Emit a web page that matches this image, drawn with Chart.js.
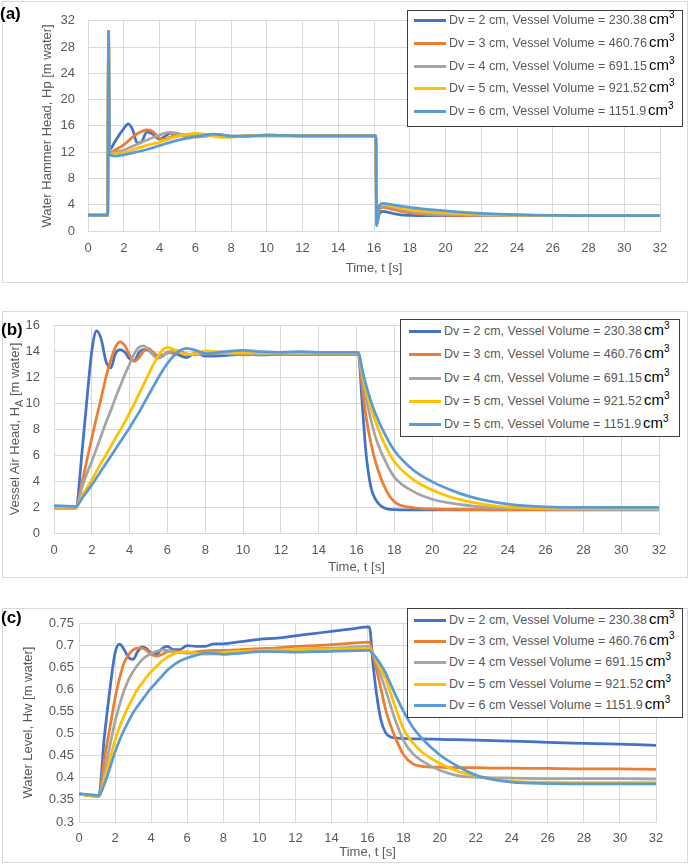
<!DOCTYPE html>
<html>
<head>
<meta charset="utf-8">
<script src="https://cdn.jsdelivr.net/npm/chart.js@4.4.0/dist/chart.umd.min.js"></script>
<style>
  body { margin: 0; width: 690px; height: 864px; background: #fff; position: relative; overflow: hidden; font-family: "Liberation Sans", Arial, sans-serif; }
  .frame { position: absolute; border: 1px solid #d9d9d9; box-sizing: border-box; }
  canvas { position: absolute; left: 0; }
  .tag { position: absolute; font-weight: bold; font-size: 17px; color: #000; }
  .legend { position: absolute; border: 1.5px solid #3f3f3f; background: #fff; box-sizing: border-box; }
  .row { position: absolute; height: 20px; display: flex; align-items: center; white-space: nowrap; }
  .swatch { width: 32px; height: 3px; margin-right: 3px; }
  .txt { font-size: 12.5px; color: #595959; }
  .unit { font-size: 15px; color: #000; position: relative; top: -2px; margin-left: 2px; }
  .unit sup { font-size: 10px; }
  .ytitle { position: absolute; transform: translate(-50%, -50%) rotate(-90deg); white-space: nowrap; color: #595959; font-size: 13px; }
</style>
</head>
<body>
<div class="frame" style="left:2px;top:1px;width:686px;height:282px"></div>
<div class="frame" style="left:2px;top:311px;width:686px;height:267px"></div>
<div class="frame" style="left:2px;top:608px;width:686px;height:255px"></div>

<canvas id="chartA" width="690" height="282" style="top:0px"></canvas>
<canvas id="chartB" width="690" height="280" style="top:300px"></canvas>
<canvas id="chartC" width="690" height="264" style="top:600px"></canvas>

<div class="tag" style="left:0px;top:4px">(a)</div>
<div class="tag" style="left:1px;top:320px">(b)</div>
<div class="tag" style="left:1px;top:608px">(c)</div>
<div class="ytitle" style="left:16px;top:429px">Vessel Air Head, H<sub>A</sub> [m water]</div>

<script>
// (a) water hammer head Hp [m water]
const timeA = [0, 1.1, 1.15, 1.2, 1.3, 1.5, 2, 2.25, 2.5, 2.75, 3, 3.3, 3.6, 4, 4.3, 4.6, 5, 5.5, 6, 6.5, 7, 7.5, 8, 9, 10, 12, 14,
               16.1, 16.15, 16.3, 16.5, 17, 17.5, 18, 19, 20, 21, 22, 23, 24, 25, 26, 28, 32];
const hpDv2 = [2.4, 2.4, 30.4, 12.5, 12.6, 13.6, 15.6, 16.3, 15.4, 13.4, 13.6, 15.1, 14.8, 14.0, 14.4, 14.9, 14.7, 14.4, 14.5, 14.6, 14.7, 14.6, 14.4, 14.5, 14.6, 14.5, 14.5,
               14.5, 1.0, 2.6, 3.0, 2.7, 2.45, 2.38, 2.35, 2.35, 2.35, 2.35, 2.35, 2.35, 2.35, 2.35, 2.35, 2.35];
const hpDv3 = [2.4, 2.4, 30.4, 12.0, 12.0, 12.3, 13.1, 13.7, 14.3, 14.8, 15.15, 15.4, 15.2, 14.1, 13.95, 14.3, 14.75, 14.6, 14.3, 14.4, 14.6, 14.5, 14.4, 14.5, 14.5, 14.5, 14.5,
               14.5, 1.0, 3.2, 3.6, 3.3, 3.0, 2.75, 2.5, 2.4, 2.37, 2.35, 2.35, 2.35, 2.35, 2.35, 2.35, 2.35];
const hpDv4 = [2.4, 2.4, 30.4, 11.8, 11.8, 12.0, 12.3, 12.6, 12.9, 13.2, 13.5, 13.85, 14.2, 14.6, 14.9, 15.0, 14.85, 14.45, 14.35, 14.5, 14.6, 14.6, 14.5, 14.5, 14.5, 14.5, 14.5,
               14.5, 1.0, 3.5, 3.9, 3.6, 3.3, 3.0, 2.7, 2.55, 2.45, 2.4, 2.37, 2.35, 2.35, 2.35, 2.35, 2.35];
const hpDv5 = [2.4, 2.4, 30.4, 11.7, 11.7, 11.8, 11.9, 12.1, 12.35, 12.6, 12.8, 13.05, 13.25, 13.5, 13.8, 14.1, 14.4, 14.7, 14.85, 14.75, 14.45, 14.25, 14.3, 14.5, 14.6, 14.5, 14.5,
               14.5, 1.0, 3.7, 4.0, 3.8, 3.5, 3.25, 2.95, 2.75, 2.62, 2.52, 2.45, 2.4, 2.37, 2.35, 2.35, 2.35];
const hpDv6 = [2.4, 2.4, 30.4, 11.6, 11.5, 11.4, 11.6, 11.75, 11.9, 12.05, 12.2, 12.4, 12.65, 13.0, 13.25, 13.5, 13.8, 14.1, 14.35, 14.6, 14.75, 14.65, 14.4, 14.45, 14.6, 14.5, 14.5,
               14.5, 0.8, 3.9, 4.2, 4.0, 3.8, 3.6, 3.3, 3.05, 2.85, 2.7, 2.58, 2.48, 2.4, 2.36, 2.35, 2.35];

// (b) vessel air head HA [m water]
const timeB = [0, 1.15, 1.5, 1.8, 2, 2.25, 2.5, 2.75, 3, 3.25, 3.5, 3.75, 4, 4.25, 4.5, 4.75, 5, 5.25, 5.5, 5.75, 6, 6.5, 7, 7.5, 8, 9, 10, 11, 12, 13, 14, 15,
               16.1, 16.3, 16.5, 16.75, 17, 17.5, 18, 19, 20, 21, 22, 23, 24, 25, 26, 28, 30, 32];
const haDv2 = [2.05, 2.0, 6.5, 11.2, 14.0, 15.55, 14.9, 13.2, 12.7, 13.8, 14.1, 13.9, 13.4, 13.25, 13.9, 14.1, 14.05, 13.7, 13.45, 13.6, 13.9, 13.75, 13.5, 13.85, 13.6, 13.65, 13.75, 13.7, 13.75, 13.75, 13.75, 13.75,
               13.75, 10.0, 6.2, 3.6, 2.6, 1.9, 1.8, 1.78, 1.78, 1.78, 1.78, 1.78, 1.78, 1.78, 1.78, 1.78, 1.78, 1.78];
const haDv3 = [1.9, 1.9, 4.0, 6.0, 7.3, 8.9, 10.4, 12.0, 13.3, 14.3, 14.7, 14.4, 13.7, 13.2, 13.5, 14.0, 14.2, 13.9, 13.65, 13.7, 13.85, 13.9, 13.7, 13.8, 13.75, 13.8, 13.7, 13.75, 13.75, 13.8, 13.8, 13.8,
               13.8, 11.3, 9.0, 7.0, 5.5, 3.5, 2.4, 1.95, 1.85, 1.82, 1.8, 1.8, 1.8, 1.8, 1.8, 1.8, 1.8, 1.8];
const haDv4 = [2.0, 2.0, 3.6, 4.8, 5.5, 6.5, 7.5, 8.5, 9.4, 10.4, 11.3, 12.2, 13.0, 13.8, 14.3, 14.4, 14.1, 13.7, 13.45, 13.6, 13.9, 14.05, 13.8, 13.7, 13.85, 13.8, 13.8, 13.8, 13.8, 13.8, 13.8, 13.8,
               13.8, 12.0, 10.4, 8.8, 7.4, 5.6, 4.3, 3.2, 2.6, 2.3, 2.1, 1.95, 1.9, 1.87, 1.85, 1.82, 1.8, 1.8];
const haDv5 = [2.0, 2.0, 2.9, 3.6, 4.1, 4.75, 5.4, 6.0, 6.65, 7.3, 7.9, 8.55, 9.25, 9.95, 10.7, 11.45, 12.2, 12.95, 13.6, 14.1, 14.28, 14.0, 13.75, 13.8, 14.0, 13.9, 13.85, 13.85, 13.85, 13.85, 13.85, 13.85,
               13.85, 12.4, 11.0, 9.7, 8.6, 6.8, 5.5, 4.1, 3.3, 2.75, 2.4, 2.15, 2.0, 1.95, 1.9, 1.88, 1.88, 1.88];
const haDv6 = [2.1, 2.05, 2.7, 3.3, 3.7, 4.25, 4.8, 5.35, 5.9, 6.45, 7.0, 7.55, 8.1, 8.7, 9.3, 9.95, 10.6, 11.25, 11.9, 12.5, 13.05, 13.85, 14.2, 14.05, 13.8, 13.95, 14.05, 13.95, 13.9, 13.95, 13.9, 13.9,
               13.9, 12.6, 11.4, 10.2, 9.2, 7.6, 6.35, 4.85, 3.95, 3.3, 2.8, 2.45, 2.22, 2.08, 2.01, 1.97, 1.97, 1.97];

// (c) water level Hw [m water]
const timeC = [0, 1.1, 1.4, 1.7, 2, 2.25, 2.5, 2.75, 3, 3.25, 3.5, 3.75, 4, 4.3, 4.6, 4.9, 5.25, 5.6, 6, 6.5, 7, 7.5, 8, 9, 10, 11, 12, 13, 14, 15,
               16.1, 16.3, 16.5, 16.75, 17, 17.25, 17.5, 18, 18.5, 19, 20, 21, 22, 23, 24, 26, 28, 30, 32];
const hwDv2 = [0.363, 0.36, 0.49, 0.595, 0.682, 0.702, 0.69, 0.672, 0.668, 0.685, 0.696, 0.692, 0.682, 0.68, 0.692, 0.697, 0.69, 0.69, 0.699, 0.697, 0.697, 0.703, 0.703, 0.708, 0.713, 0.716, 0.721, 0.726, 0.731, 0.736,
               0.741, 0.66, 0.59, 0.53, 0.502, 0.493, 0.49, 0.489, 0.488, 0.488, 0.487, 0.486, 0.485, 0.484, 0.483, 0.48, 0.478, 0.476, 0.4735];
const hwDv3 = [0.363, 0.358, 0.44, 0.51, 0.58, 0.625, 0.66, 0.678, 0.689, 0.693, 0.693, 0.688, 0.679, 0.675, 0.679, 0.685, 0.687, 0.684, 0.683, 0.685, 0.687, 0.688, 0.688, 0.69, 0.692, 0.694, 0.697, 0.699, 0.701, 0.704,
               0.707, 0.68, 0.645, 0.6, 0.555, 0.522, 0.495, 0.452, 0.432, 0.426, 0.424, 0.423, 0.423, 0.422, 0.422, 0.421, 0.42, 0.42, 0.419];
const hwDv4 = [0.363, 0.358, 0.41, 0.47, 0.527, 0.565, 0.597, 0.622, 0.64, 0.655, 0.667, 0.675, 0.681, 0.686, 0.689, 0.688, 0.685, 0.683, 0.682, 0.682, 0.683, 0.684, 0.684, 0.686, 0.687, 0.688, 0.69, 0.692, 0.693, 0.695,
               0.697, 0.68, 0.66, 0.63, 0.6, 0.567, 0.535, 0.484, 0.455, 0.439, 0.417, 0.405, 0.401, 0.4, 0.399, 0.398, 0.398, 0.398, 0.397];
const hwDv5 = [0.363, 0.358, 0.395, 0.44, 0.485, 0.515, 0.54, 0.562, 0.582, 0.6, 0.614, 0.628, 0.64, 0.652, 0.664, 0.673, 0.68, 0.684, 0.685, 0.682, 0.679, 0.68, 0.683, 0.686, 0.688, 0.689, 0.69, 0.69, 0.691, 0.692,
               0.693, 0.68, 0.665, 0.645, 0.625, 0.595, 0.565, 0.51, 0.48, 0.459, 0.433, 0.415, 0.404, 0.396, 0.392, 0.39, 0.389, 0.389, 0.389];
const hwDv6 = [0.364, 0.36, 0.385, 0.42, 0.459, 0.485, 0.508, 0.528, 0.547, 0.562, 0.576, 0.59, 0.603, 0.616, 0.63, 0.643, 0.655, 0.664, 0.671, 0.677, 0.682, 0.681, 0.679, 0.682, 0.685, 0.685, 0.684, 0.685, 0.686, 0.687,
               0.688, 0.68, 0.67, 0.655, 0.638, 0.615, 0.592, 0.55, 0.515, 0.49, 0.452, 0.426, 0.406, 0.396, 0.39, 0.387, 0.386, 0.386, 0.386];

const legendA = ['Dv = 2 cm, Vessel Volume = 230.38', 'Dv = 3 cm, Vessel Volume = 460.76', 'Dv = 4 cm, Vessel Volume = 691.15',
                 'Dv = 5 cm, Vessel Volume = 921.52', 'Dv = 6 cm, Vessel Volume = 1151.9'];
const legendB = ['Dv = 2 cm, Vessel Volume = 230.38', 'Dv = 3 cm, Vessel Volume = 460.76', 'Dv = 4 cm, Vessel Volume = 691.15',
                 'Dv = 5 cm, Vessel Volume = 921.52', 'Dv = 5 cm, Vessel Volume = 1151.9'];
const legendC = ['Dv = 2 cm, Vessel Volume = 230.38', 'Dv = 3 cm, Vessel Volume = 460.76', 'Dv = 4 cm Vessel Volume = 691.15',
                 'Dv = 5 cm Vessel Volume = 921.52', 'Dv = 6 cm Vessel Volume = 1151.9'];

const colors = ['#4472C4', '#ED7D31', '#A5A5A5', '#FFC000', '#5B9BD5'];
const grey = '#595959';
const family = '"Liberation Sans", Arial, sans-serif';

function buildChart(id, time, series, names, cfg) {
    const datasets = series.map((vals, i) => ({
        label: names[i],
        data: time.map((t, k) => ({ x: t, y: vals[k] })),
        borderColor: colors[i],
        backgroundColor: colors[i],
        borderWidth: 2.75,
        pointRadius: 0,
        cubicInterpolationMode: 'monotone',
        order: series.length - i
    }));
    return new Chart(document.getElementById(id), {
        type: 'line',
        data: { datasets: datasets },
        options: {
            responsive: false,
            animation: false,
            devicePixelRatio: 1,
            layout: { padding: cfg.pad },
            plugins: { legend: { display: false }, tooltip: { enabled: false } },
            scales: {
                x: {
                    type: 'linear', min: 0, max: 32,
                    ticks: { stepSize: 2, color: grey, font: { family: family, size: 13 }, padding: cfg.xPad },
                    grid: { color: '#d9d9d9', drawTicks: false },
                    border: { color: '#d9d9d9' },
                    title: { display: true, text: 'Time, t [s]', color: grey, font: { family: family, size: 13 }, padding: { top: 0, bottom: 4 } },
                    afterFit: s => { s.height = cfg.xH; }
                },
                y: {
                    min: cfg.yMin, max: cfg.yMax,
                    ticks: { stepSize: cfg.yStep, color: grey, font: { family: family, size: 13 }, padding: cfg.yPad,
                             callback: v => String(Math.round(v * 100) / 100) },
                    grid: { color: '#d9d9d9', drawTicks: false },
                    border: { color: '#d9d9d9' },
                    title: { display: !!cfg.yTitle, text: cfg.yTitle || '', color: grey, font: { family: family, size: 13 }, padding: { top: 4, bottom: 4 } },
                    afterFit: s => { s.width = cfg.yW; }
                }
            }
        }
    });
}

buildChart('chartA', timeA, [hpDv2, hpDv3, hpDv4, hpDv5, hpDv6], legendA, {
    pad: { left: 36, right: 30, top: 15, bottom: 2 }, xH: 49, yW: 52, xPad: 10, yPad: 13,
    yMin: 0, yMax: 32, yStep: 4, yTitle: 'Water Hammer Head, Hp [m water]'
});
buildChart('chartB', timeB, [haDv2, haDv3, haDv4, haDv5, haDv6], legendB, {
    pad: { left: 0, right: 31, top: 25, bottom: 1 }, xH: 46, yW: 54, xPad: 10, yPad: 14,
    yMin: 0, yMax: 16, yStep: 2
});
buildChart('chartC', timeC, [hwDv2, hwDv3, hwDv4, hwDv5, hwDv6], legendC, {
    pad: { left: 17, right: 34, top: 23, bottom: 0 }, xH: 42, yW: 62, xPad: 9, yPad: 5,
    yMin: 0.3, yMax: 0.75, yStep: 0.05, yTitle: 'Water Level, Hw [m water]'
});

// legend boxes with the cm³ unit
function buildLegend(names, box) {
    const el = document.createElement('div');
    el.className = 'legend';
    el.style.left = box.left + 'px';
    el.style.top = box.top + 'px';
    el.style.width = box.w + 'px';
    el.style.height = box.h + 'px';
    names.forEach((name, i) => {
        const row = document.createElement('div');
        row.className = 'row';
        row.style.left = box.lineX + 'px';
        row.style.top = Math.round(box.first + i * box.step - 10) + 'px';
        row.innerHTML = '<span class="swatch" style="background:' + colors[i] + '"></span>' +
            '<span class="txt">' + name + '</span><span class="unit">cm<sup>3</sup></span>';
        el.appendChild(row);
    });
    document.body.appendChild(el);
}
buildLegend(legendA, { left: 407, top: 10, w: 276, h: 117, lineX: 6, first: 9.2, step: 22.75 });
buildLegend(legendB, { left: 400, top: 319, w: 280, h: 118, lineX: 8, first: 11.2, step: 23.15 });
buildLegend(legendC, { left: 407, top: 608, w: 276, h: 110, lineX: 6, first: 10.5, step: 21.4 });
</script>
</body>
</html>
